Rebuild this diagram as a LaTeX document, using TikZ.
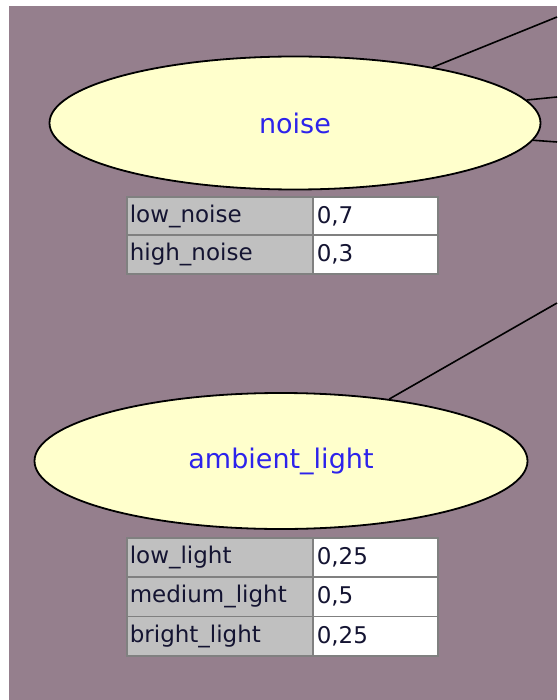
\documentclass[tikz,border=0pt]{standalone}
\usepackage{fontspec}
\setmainfont{DejaVu Sans}
\usetikzlibrary{shapes.geometric}
\definecolor{bg}{RGB}{149,127,141}
\definecolor{nodefill}{RGB}{255,255,204}
\definecolor{lbl}{RGB}{45,35,235}
\definecolor{cellgray}{RGB}{192,192,192}
\definecolor{cellborder}{RGB}{128,128,128}
\definecolor{celltext}{RGB}{20,20,50}
\begin{document}
\begin{tikzpicture}[x=1pt,y=-1pt,
  varnode/.style={ellipse, draw=black, line width=1.8pt, fill=nodefill, inner sep=0pt,
    text=lbl, font=\fontsize{27}{30}\selectfont},
  edge/.style={draw=black, line width=1.6pt},
  cellbase/.style={draw=cellborder, line width=1.6pt, anchor=north west, inner ysep=0pt,
    align=left, text=celltext, font=\fontsize{23}{26}\selectfont},
  namecell/.style={cellbase, fill=cellgray, inner xsep=3pt, text width=180pt},
  valcell/.style={cellbase, fill=white, inner xsep=4pt, text width=117pt}
]
\useasboundingbox (0,0) rectangle (557,700);
\fill[white] (0,0) rectangle (557,700);
\fill[bg] (9,6) rectangle (557,700);

% variables
\node[varnode, minimum width=491pt, minimum height=133pt] (noise) at (295,123) {noise};
\node[varnode, minimum width=493pt, minimum height=136pt] (ambient) at (281,461) {ambient\_light};

% free ends of connectors (beyond the visible area)
\coordinate (t1) at (557,17);
\coordinate (t2) at (557,97);
\coordinate (t3) at (557,142);
\coordinate (t4) at (557,303);

\draw[edge] (noise) -- (t1);
\draw[edge] (noise) -- (t2);
\draw[edge] (noise) -- (t3);
\draw[edge] (ambient) -- (t4);

% noise table
\node[namecell, minimum height=38.5pt] (n1) at (126,196) {low\_noise};
\node[valcell,  minimum height=38.5pt] (v1) at (312,196) {0,7};
\node[namecell, minimum height=38.5pt] (n2) at (126,234.5) {high\_noise};
\node[valcell,  minimum height=38.5pt] (v2) at (312,234.5) {0,3};

% ambient_light table
\node[namecell, minimum height=39.3pt] (a1) at (126,537) {low\_light};
\node[valcell,  minimum height=39.3pt] (b1) at (312,537) {0,25};
\node[namecell, minimum height=39.3pt] (a2) at (126,576.3) {medium\_light};
\node[valcell,  minimum height=39.3pt] (b2) at (312,576.3) {0,5};
\node[namecell, minimum height=39.3pt] (a3) at (126,615.6) {bright\_light};
\node[valcell,  minimum height=39.3pt] (b3) at (312,615.6) {0,25};
\end{tikzpicture}
\end{document}
